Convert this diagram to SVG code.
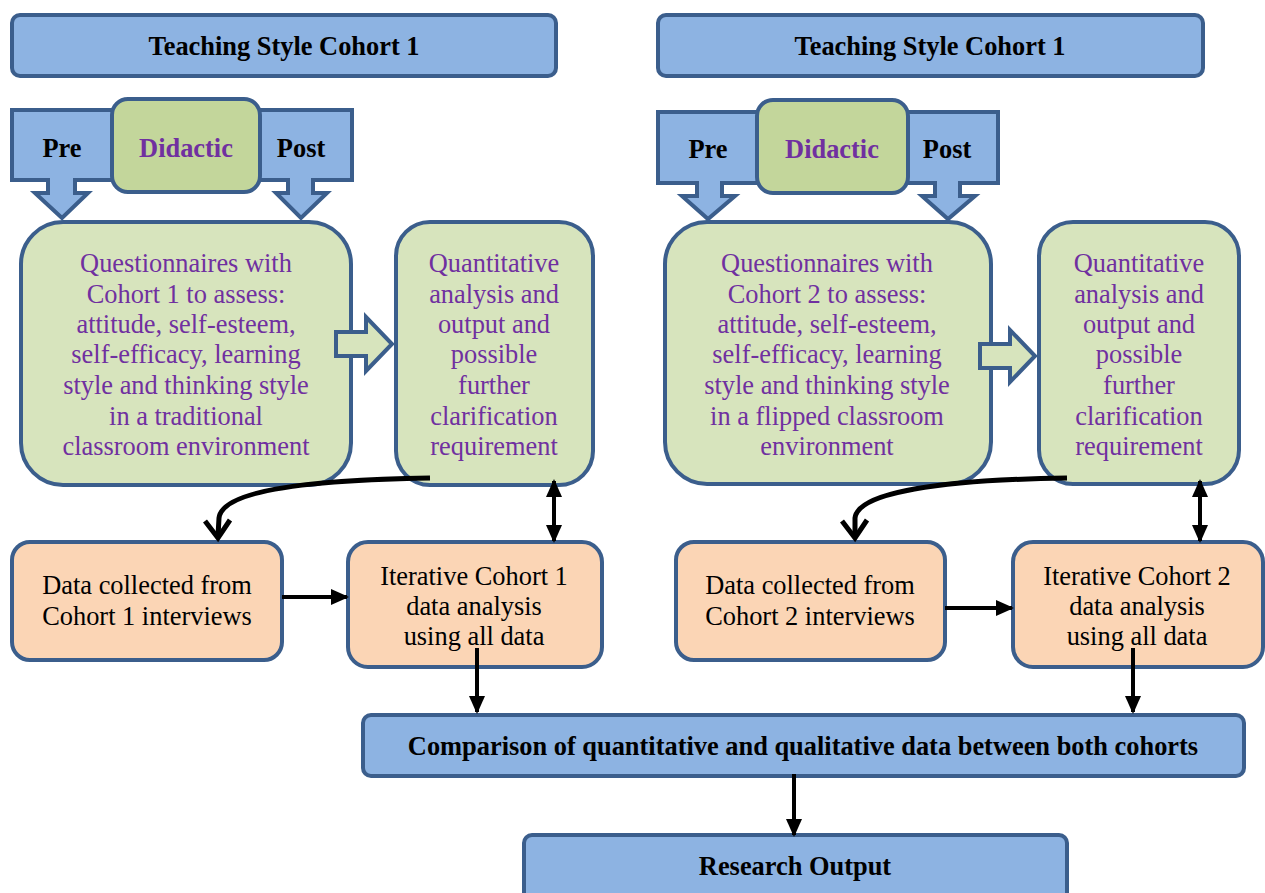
<svg xmlns="http://www.w3.org/2000/svg" width="1265" height="893" viewBox="0 0 1265 893">
<defs>
<style>
.blue{fill:#8DB3E2;stroke:#3B5E8C;stroke-width:4}
.grn{fill:#D7E4BD;stroke:#3B5E8C;stroke-width:4}
.dgrn{fill:#C3D69B;stroke:#3B5E8C;stroke-width:4}
.org{fill:#FBD5B5;stroke:#3B5E8C;stroke-width:4}
text{font-family:"Liberation Serif","Times New Roman",serif;font-size:26.4px;text-anchor:middle}
.b{font-weight:bold;fill:#000}
.p{fill:#7030A0}
.pb{fill:#7030A0;font-weight:bold}
.k{fill:#000}
.ln{fill:none;stroke:#000;stroke-width:4}
.cv{fill:none;stroke:#000;stroke-width:5}
</style>
<marker id="ah" markerUnits="userSpaceOnUse" markerWidth="18" markerHeight="16" refX="16" refY="8" orient="auto-start-reverse" viewBox="0 0 18 16">
<path d="M0,0 L18,8 L0,16 Z" fill="#000"/>
</marker>
</defs>

<g id="title1"><rect class="blue" x="12" y="15" width="544" height="61" rx="8"/><text class="b" x="284" y="55">Teaching Style Cohort 1</text></g>
<g id="title2"><rect class="blue" x="658" y="15" width="545" height="61" rx="8"/><text class="b" x="930" y="55">Teaching Style Cohort 1</text></g>

<g id="pre1"><path class="blue" d="M12,110 H150 V180 H75 V193 H88 L62,218 L35,193 H48 V180 H12 Z"/><text class="b" x="62" y="157">Pre</text></g>
<g id="post1"><path class="blue" d="M220,110 H352 V180 H313 V193 H327 L301,218 L276,193 H288 V180 H220 Z"/><text class="b" x="301" y="157">Post</text></g>
<g id="didactic1"><rect class="dgrn" x="112" y="99" width="148" height="93" rx="16"/><text class="pb" x="186" y="157">Didactic</text></g>

<g id="pre2"><path class="blue" d="M658,112 H800 V183 H722 V196 H735 L708,219 L682,196 H697 V183 H658 Z"/><text class="b" x="708" y="158">Pre</text></g>
<g id="post2"><path class="blue" d="M870,112 H998 V183 H960 V196 H975 L948,219 L922,196 H935 V183 H870 Z"/><text class="b" x="947" y="158">Post</text></g>
<g id="didactic2"><rect class="dgrn" x="757" y="100" width="151" height="93" rx="16"/><text class="pb" x="832" y="158">Didactic</text></g>

<g id="quest1"><rect class="grn" x="21" y="222" width="330" height="263" rx="42"/>
<text class="p" x="186"><tspan x="186" y="272">Questionnaires with</tspan><tspan x="186" y="303">Cohort 1 to assess:</tspan><tspan x="186" y="333">attitude, self-esteem,</tspan><tspan x="186" y="363">self-efficacy, learning</tspan><tspan x="186" y="394">style and thinking style</tspan><tspan x="186" y="425">in a traditional</tspan><tspan x="186" y="455">classroom environment</tspan></text></g>

<g id="quant1"><rect class="grn" x="396" y="222" width="197" height="263" rx="34"/>
<text class="p" x="494"><tspan x="494" y="272">Quantitative</tspan><tspan x="494" y="303">analysis and</tspan><tspan x="494" y="333">output and</tspan><tspan x="494" y="363">possible</tspan><tspan x="494" y="394">further</tspan><tspan x="494" y="425">clarification</tspan><tspan x="494" y="455">requirement</tspan></text></g>

<g id="quest2"><rect class="grn" x="665" y="222" width="326" height="262" rx="42"/>
<text class="p" x="827"><tspan x="827" y="272">Questionnaires with</tspan><tspan x="827" y="303">Cohort 2 to assess:</tspan><tspan x="827" y="333">attitude, self-esteem,</tspan><tspan x="827" y="363">self-efficacy, learning</tspan><tspan x="827" y="394">style and thinking style</tspan><tspan x="827" y="425">in a flipped classroom</tspan><tspan x="827" y="455">environment</tspan></text></g>

<g id="quant2"><rect class="grn" x="1039" y="222" width="200" height="262" rx="34"/>
<text class="p" x="1139"><tspan x="1139" y="272">Quantitative</tspan><tspan x="1139" y="303">analysis and</tspan><tspan x="1139" y="333">output and</tspan><tspan x="1139" y="363">possible</tspan><tspan x="1139" y="394">further</tspan><tspan x="1139" y="425">clarification</tspan><tspan x="1139" y="455">requirement</tspan></text></g>

<g id="data1"><rect class="org" x="12" y="542" width="270" height="118" rx="18"/>
<text class="k"><tspan x="147" y="594">Data collected from</tspan><tspan x="147" y="625">Cohort 1 interviews</tspan></text></g>
<g id="iter1"><rect class="org" x="348" y="542" width="254" height="125" rx="20"/>
<text class="k"><tspan x="474" y="585">Iterative Cohort 1</tspan><tspan x="474" y="615">data analysis</tspan><tspan x="474" y="645">using all data</tspan></text></g>

<g id="data2"><rect class="org" x="676" y="542" width="269" height="118" rx="18"/>
<text class="k"><tspan x="810" y="594">Data collected from</tspan><tspan x="810" y="625">Cohort 2 interviews</tspan></text></g>
<g id="iter2"><rect class="org" x="1013" y="542" width="250" height="125" rx="20"/>
<text class="k"><tspan x="1137" y="585">Iterative Cohort 2</tspan><tspan x="1137" y="615">data analysis</tspan><tspan x="1137" y="645">using all data</tspan></text></g>

<g id="comparison"><rect class="blue" x="363" y="715" width="881" height="61" rx="8"/><text class="b" x="803" y="755">Comparison of quantitative and qualitative data between both cohorts</text></g>
<g id="output"><rect class="blue" x="524" y="835" width="543" height="70" rx="8"/><text class="b" x="795" y="875">Research Output</text></g>

<g id="connectors">
<path class="grn" d="M336,332 H366 V317 L392,344 L366,371 V356 H336 Z"/>
<path class="grn" d="M980,344 H1010 V330 L1035,356 L1010,382 V368 H980 Z"/>
<path class="cv" d="M430,478 C 300,480 222,492 219,518 L218,536"/>
<path class="cv" d="M205,521 L218,538 L230,520"/>
<path class="cv" d="M1067,478 C 940,480 858,492 855,518 L855,536"/>
<path class="cv" d="M842,521 L855,538 L867,520"/>
<line class="ln" x1="282" y1="597" x2="347" y2="597" marker-end="url(#ah)"/>
<line class="ln" x1="945" y1="608" x2="1012" y2="608" marker-end="url(#ah)"/>
<line class="ln" x1="554" y1="481" x2="554" y2="541" marker-start="url(#ah)" marker-end="url(#ah)"/>
<line class="ln" x1="1200" y1="481" x2="1200" y2="541" marker-start="url(#ah)" marker-end="url(#ah)"/>
<line class="ln" x1="477" y1="648" x2="477" y2="712" marker-end="url(#ah)"/>
<line class="ln" x1="1133" y1="648" x2="1133" y2="712" marker-end="url(#ah)"/>
<line class="ln" x1="794" y1="774" x2="794" y2="835" marker-end="url(#ah)"/>
</g>
</svg>
